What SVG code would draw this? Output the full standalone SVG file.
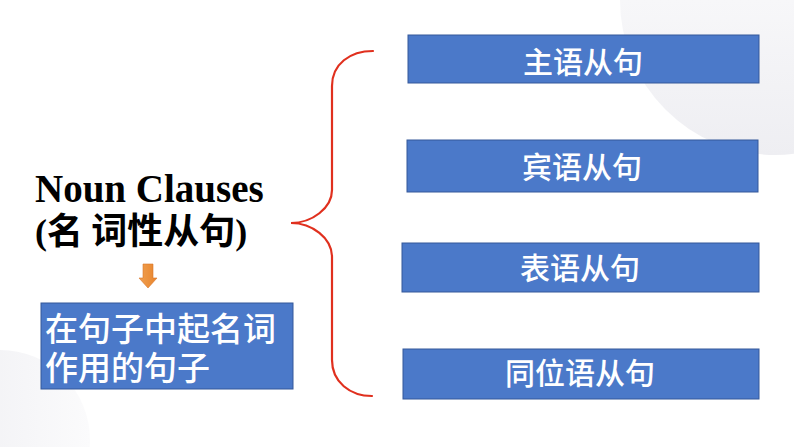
<svg xmlns="http://www.w3.org/2000/svg" width="794" height="447" viewBox="0 0 794 447">
<defs>
<linearGradient id="bgTR" x1="0" y1="0" x2="0" y2="1">
<stop offset="0" stop-color="#ffffff"/>
<stop offset="0.5" stop-color="#f7f7f9"/>
<stop offset="1" stop-color="#eeeef2"/>
</linearGradient>
<linearGradient id="bgBL" x1="0" y1="0" x2="1" y2="0">
<stop offset="0" stop-color="#ededf1"/>
<stop offset="1" stop-color="#fbfbfc"/>
</linearGradient>
<linearGradient id="org" x1="0" y1="0" x2="1" y2="0">
<stop offset="0" stop-color="#f0a050"/>
<stop offset="1" stop-color="#e8842c"/>
</linearGradient>
<style>
.box{fill:#4b79c9;stroke:#35599a;stroke-width:1}
.lbl{font-family:"Noto Sans CJK SC","Noto Sans",sans-serif;font-size:30px;font-weight:500;fill:#ffffff;text-anchor:middle}
.desc{font-family:"Noto Sans CJK SC","Noto Sans",sans-serif;font-size:33px;font-weight:500;fill:#ffffff}
.title{font-family:"Liberation Serif","Noto Sans CJK SC",serif;font-weight:bold;fill:#000000}
.brace{fill:none;stroke:#e0301e;stroke-width:2.2;stroke-linecap:round}
</style>
</defs>
<rect width="794" height="447" fill="#ffffff"/>
<circle cx="775" cy="0" r="155" fill="url(#bgTR)"/>
<circle cx="0" cy="440" r="90" fill="url(#bgBL)"/>

<g id="title">
<text class="title" x="35" y="202" font-size="39">Noun Clauses</text>
<text class="title" x="35" y="244" font-size="36">(<tspan font-family="Noto Sans CJK SC, sans-serif">名 词性从句</tspan>)</text>
</g>

<g id="definition">
<rect class="box" x="41" y="303" width="252" height="86"/>
<text class="desc" x="45" y="341">在句子中起名词</text>
<text class="desc" x="45" y="380">作用的句子</text>
</g>

<g id="box1">
<rect class="box" x="408" y="35" width="351" height="48"/>
<text class="lbl" x="583" y="73">主语从句</text>
</g>
<g id="box2">
<rect class="box" x="407" y="140" width="351" height="52"/>
<text class="lbl" x="582" y="178">宾语从句</text>
</g>
<g id="box3">
<rect class="box" x="402" y="243" width="357" height="49"/>
<text class="lbl" x="580" y="279">表语从句</text>
</g>
<g id="box4">
<rect class="box" x="403" y="349" width="356" height="50"/>
<text class="lbl" x="580" y="384">同位语从句</text>
</g>

<g id="connectors">
<path d="M143,264 L153,264 L153,278 L157,278 L148,288 L139,278 L143,278 Z" fill="url(#org)" stroke="#d9762a" stroke-width="0.6"/>
<path class="brace" d="M373,51 C350,51 332,64 332,86 L332,190 C332,208 312,223 291,223 C312,223 332,238 332,257 L332,360 C332,382 350,396 372,396"/>
</g>
</svg>
